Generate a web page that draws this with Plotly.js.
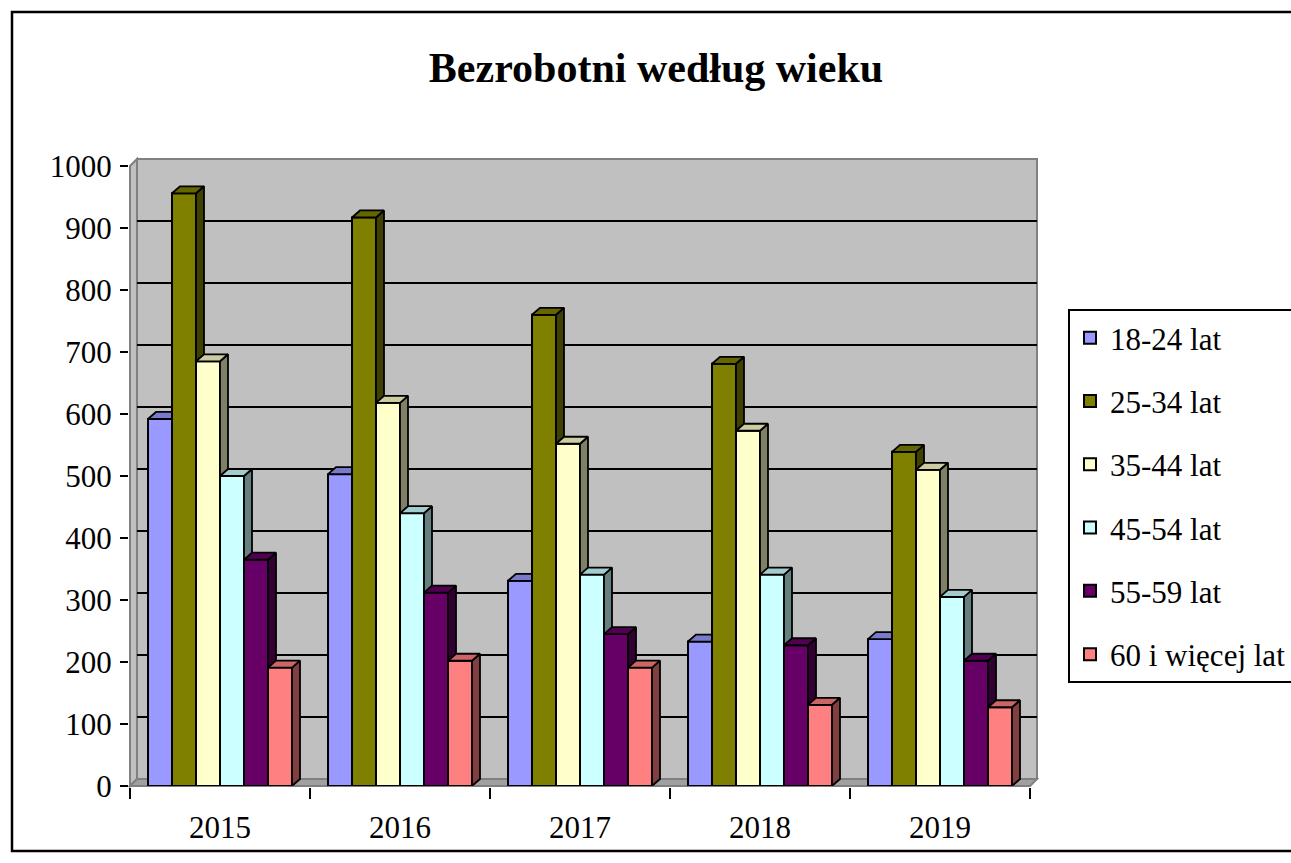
<!DOCTYPE html>
<html>
<head>
<meta charset="utf-8">
<script src="https://cdn.plot.ly/plotly-3.0.1.min.js"></script>
<style>
html,body{margin:0;padding:0;background:#ffffff;}
#chart{width:1291px;height:863px;}
</style>
</head>
<body>
<div id="chart"></div>
<script>
// ---------------- DATA ----------------
const years = ['2015', '2016', '2017', '2018', '2019'];
const seriesNames = ['18-24 lat', '25-34 lat', '35-44 lat', '45-54 lat', '55-59 lat', '60 i więcej lat'];
const v18_24 = [592, 503, 331, 233, 237];
const v25_34 = [956, 917, 760, 681, 539];
const v35_44 = [685, 618, 552, 573, 510];
const v45_54 = [500, 440, 341, 341, 305];
const v55_59 = [365, 312, 245, 227, 202];
const v60plus = [191, 202, 191, 131, 127];
const yTickValues = [0, 100, 200, 300, 400, 500, 600, 700, 800, 900, 1000];

// ---------------- STYLE ----------------
const frontColors = ['#9999FF', '#808000', '#FFFFCC', '#CCFFFF', '#660066', '#FF8080'];
const topColors   = ['#7A7ACC', '#666600', '#CCCCA3', '#A3CCCC', '#520052', '#CC6666'];
const sideColors  = ['#4C4C80', '#404000', '#808066', '#668080', '#330033', '#804040'];
const seriesValues = [v18_24, v25_34, v35_44, v45_54, v55_59, v60plus];

const FONT = 'Liberation Serif, Times New Roman, serif';
const TXT = 31;
const W = 1291, H = 863;
const M = {l: 130, r: 261, t: 166, b: 77, autoexpand: false};
const plotW = W - M.l - M.r;   // 900
const plotH = H - M.t - M.b;   // 620
const xRange = [0, years.length];
const yRange = [0, 1000];
const pxPerX = plotW / (xRange[1] - xRange[0]);
const pxPerY = plotH / (yRange[1] - yRange[0]);

// 3D depth (pixels) converted to axis units
const barDepthPx = {dx: 8, dy: 7};
const wallDepthPx = {dx: 7, dy: 7};
const bdx = barDepthPx.dx / pxPerX, bdy = barDepthPx.dy / pxPerY;
const wdxP = wallDepthPx.dx / plotW, wdyP = wallDepthPx.dy / plotH;   // paper units
const wdyU = wallDepthPx.dy / pxPerY;

const groupWidth = 0.8;
const nS = seriesNames.length;
const barW = groupWidth / nS;
const xCenters = years.map((_, i) => i + 0.5);
const boundaries = years.map((_, i) => i).concat([years.length]);

const traces = [];
seriesValues.forEach((vals, s) => {
  const off = -groupWidth / 2 + s * barW;
  traces.push({
    type: 'bar', name: seriesNames[s], x: xCenters, y: vals,
    width: barW, offset: off,
    marker: {color: frontColors[s], line: {color: '#000000', width: 2}},
    legendgroup: 'g' + s, zorder: 3 * s, hoverinfo: 'x+y+name'
  });
  const sx = [], sy = [], tx = [], ty = [];
  vals.forEach((v, j) => {
    const left = xCenters[j] + off, right = left + barW;
    sx.push(right, right + bdx, right + bdx, right, right, null);
    sy.push(0, bdy, v + bdy, v, 0, null);
    tx.push(left, right, right + bdx, left + bdx, left, null);
    ty.push(v, v, v + bdy, v + bdy, v, null);
  });
  traces.push({
    type: 'scatter', mode: 'lines', x: sx, y: sy, fill: 'toself',
    fillcolor: sideColors[s], line: {color: '#000000', width: 1.8},
    showlegend: false, hoverinfo: 'skip', zorder: 3 * s + 1, legendgroup: 'g' + s
  });
  traces.push({
    type: 'scatter', mode: 'lines', x: tx, y: ty, fill: 'toself',
    fillcolor: topColors[s], line: {color: '#000000', width: 1.8},
    showlegend: false, hoverinfo: 'skip', zorder: 3 * s + 2, legendgroup: 'g' + s
  });
});

// background walls / floor / back gridlines (decoration)
const shapes = [];
const px = p => (p - M.l) / plotW;          // page px -> paper x
const py = p => (H - M.b - p) / plotH;      // page px -> paper y
shapes.push({type: 'rect', xref: 'paper', yref: 'paper', layer: 'below',
  x0: px(12), x1: px(1320), y0: py(851), y1: py(12),
  line: {color: '#000000', width: 2.5}, fillcolor: 'rgba(0,0,0,0)'});
shapes.push({type: 'rect', xref: 'paper', yref: 'paper', layer: 'below',
  x0: wdxP, x1: 1 + wdxP, y0: wdyP, y1: 1 + wdyP,
  line: {color: '#808080', width: 2}, fillcolor: '#C0C0C0'});
shapes.push({type: 'path', xref: 'paper', yref: 'paper', layer: 'below',
  path: `M0,0 L${wdxP},${wdyP} L${wdxP},${1 + wdyP} L0,1 Z`,
  line: {color: '#808080', width: 2}, fillcolor: '#C0C0C0'});
shapes.push({type: 'path', xref: 'paper', yref: 'paper', layer: 'below',
  path: `M0,0 L1,0 L${1 + wdxP},${wdyP} L${wdxP},${wdyP} Z`,
  line: {color: '#808080', width: 2}, fillcolor: '#A0A0A0'});
yTickValues.filter(v => v > yRange[0] && v < yRange[1]).forEach(v => {
  shapes.push({type: 'line', xref: 'paper', yref: 'y', layer: 'below',
    x0: wdxP, x1: 1 + wdxP, y0: v + wdyU, y1: v + wdyU,
    line: {color: '#000000', width: 2}});
});

const layout = {
  width: W, height: H,
  margin: M,
  paper_bgcolor: '#FFFFFF',
  plot_bgcolor: 'rgba(0,0,0,0)',
  barmode: 'overlay',
  showlegend: true,
  font: {family: FONT, color: '#000000', size: TXT},
  title: {
    text: '<b>Bezrobotni według wieku</b>',
    font: {family: FONT, size: 42, color: '#000000'},
    x: 656 / W, xref: 'container', xanchor: 'center',
    y: 1 - 67 / H, yref: 'container', yanchor: 'middle',
    automargin: false
  },
  xaxis: {
    range: xRange, tickmode: 'array', tickvals: xCenters, ticktext: years,
    ticks: '', showline: true, linecolor: '#000000', linewidth: 2,
    showgrid: false, zeroline: false, fixedrange: true, automargin: false,
    tickfont: {family: FONT, size: TXT, color: '#000000'},
    ticklabelstandoff: 13,
    minor: {tickmode: 'array', tickvals: boundaries, ticks: 'outside', ticklen: 11,
            tickwidth: 2, tickcolor: '#000000', showgrid: false}
  },
  yaxis: {
    range: yRange, tickmode: 'array', tickvals: yTickValues,
    ticks: 'outside', ticklen: 8, tickwidth: 2, tickcolor: '#000000',
    showline: true, linecolor: '#000000', linewidth: 2,
    showgrid: false, zeroline: false, fixedrange: true, automargin: false,
    tickfont: {family: FONT, size: TXT, color: '#000000'},
    ticklabelstandoff: 2
  },
  legend: {
    x: px(1068), y: py(309), xanchor: 'left', yanchor: 'top',
    xref: 'paper', yref: 'paper',
    bgcolor: '#FFFFFF', bordercolor: '#000000', borderwidth: 2,
    font: {family: FONT, size: TXT, color: '#000000'},
    tracegroupgap: 20, traceorder: 'grouped', itemclick: false, itemdoubleclick: false
  },
  shapes: shapes
};

Plotly.newPlot('chart', traces, layout, {staticPlot: true, displayModeBar: false});
</script>
</body>
</html>
